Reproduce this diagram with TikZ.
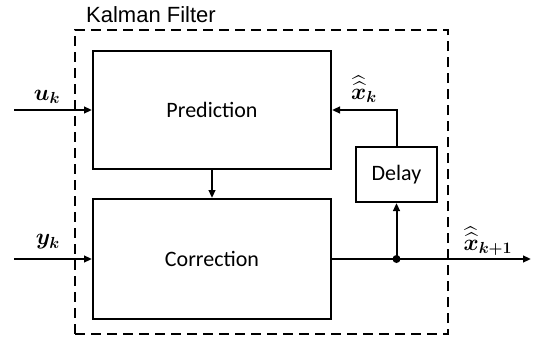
\documentclass[tikz,border=0pt]{standalone}
\usepackage{fontspec}
\usepackage{amsmath,bm}
\setmainfont{Carlito}
\newfontfamily\arialf{Liberation Sans}
\usetikzlibrary{arrows.meta,calc}
\tikzset{
  blk/.style={draw, line width=1.5pt, rectangle, inner sep=0pt, font=\fontsize{16.5}{20}\selectfont},
  arr/.style={line width=1.5pt, -{Triangle[length=6pt,width=5pt]}},
  wire/.style={line width=1.5pt},
  lbl/.style={inner sep=0pt, font=\fontsize{16.5}{20}\selectfont},
}
\newcommand{\dhat}[1]{\widehat{\widehat{#1}}}
\begin{document}
\begin{tikzpicture}[x=0.75pt,y=-0.75pt]
\useasboundingbox (0,0) rectangle (537,340);
% dashed outer box
\node[draw, line width=1.5pt, dash pattern=on 7.5pt off 4.5pt, rectangle, inner sep=0pt,
  minimum width={373*0.75pt}, minimum height={304*0.75pt}] (kf) at (261.5,182) {};
\node[lbl, font=\arialf\fontsize{16.5}{20}\selectfont] (kft) at (151,15) {Kalman Filter};
% blocks
\node[blk, minimum width={238*0.75pt}, minimum height={118*0.75pt}] (pred) at (212,110) {Prediction};
\node[blk, minimum width={238*0.75pt}, minimum height={120*0.75pt}] (corr) at (212,259) {Correction};
\node[blk, minimum width={81*0.75pt}, minimum height={55*0.75pt}] (delay) at (396.5,174.5) {Delay};
% coordinates
\coordinate (uin) at (14,110);
\coordinate (yin) at (14,259);
\coordinate (j) at (396.5,259);
\coordinate (out) at (531,259);
% connectors
\draw[arr] (uin) -- (pred.west);
\draw[arr] (yin) -- (corr.west);
\draw[arr] (pred.south) -- (corr.north);
\draw[arr] (corr.east) -- (out);
\draw[arr] (j) -- (delay.south);
\draw[arr] (delay.north) |- (pred.east);
\fill (j) circle[radius=3pt];
% labels
\node[lbl] (lu) at (47,97) {$\bm{u_k}$};
\node[lbl] (ly) at (48,242) {$\bm{y_k}$};
\node[lbl] (lx) at (364,89) {$\dhat{\bm{x}}_{\bm{k}}$};
\node[lbl] (lx1) at (488,241) {$\dhat{\bm{x}}_{\bm{k+1}}$};
\end{tikzpicture}
\end{document}
